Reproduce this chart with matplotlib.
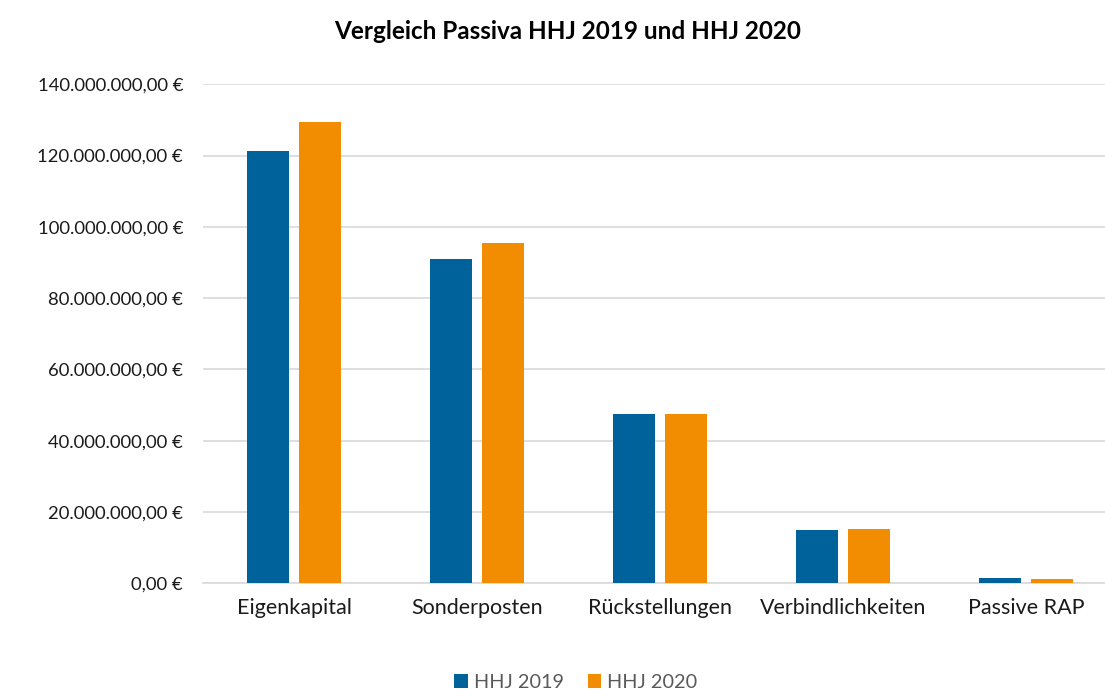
import numpy as np
import matplotlib.pyplot as plt
from matplotlib.ticker import FuncFormatter

categories = ['Eigenkapital', 'Sonderposten', 'Rückstellungen', 'Verbindlichkeiten', 'Passive RAP']
hhj_2019 = [121.4e6, 91.0e6, 47.4e6, 14.9e6, 1.4e6]
hhj_2020 = [129.3e6, 95.6e6, 47.6e6, 15.2e6, 1.2e6]
series_labels = ['HHJ 2019', 'HHJ 2020']

plt.rcParams['font.family'] = ['Lato', 'DejaVu Sans']

fig = plt.figure(figsize=(11.05, 6.91), dpi=100)
ax = fig.add_axes([0.1833, 0.156, 0.828, 0.722])

x = np.arange(len(categories))
width = 0.225
offset = 0.142
ax.bar(x - offset, hhj_2019, width, color='#00629b', label=series_labels[0], zorder=3)
ax.bar(x + offset, hhj_2020, width, color='#f28c00', label=series_labels[1], zorder=3)


def euro(v, pos):
    s = f"{v:,.2f}".replace(',', 'X').replace('.', ',').replace('X', '.')
    return s + ' €'


ax.set_ylim(0, 140e6)
ax.set_xlim(-0.5, 4.5)
ax.set_yticks(np.arange(0, 140e6 + 1, 20e6))
ax.yaxis.set_major_formatter(FuncFormatter(euro))
ax.set_xticks(x)
ax.set_xticklabels(categories)
ax.tick_params(axis='both', length=0, colors='#1a1a1a')
ax.tick_params(axis='y', labelsize=13.3, pad=14)
ax.tick_params(axis='x', labelsize=15.5, pad=11)

ax.grid(axis='y', color='#d9d9d9', linewidth=1.2, zorder=0)
for side in ['top', 'right', 'left']:
    ax.spines[side].set_visible(False)
ax.spines['bottom'].set_color('#d9d9d9')
ax.spines['bottom'].set_linewidth(1.2)

fig.text(0.514, 0.955, 'Vergleich Passiva HHJ 2019 und HHJ 2020', ha='center', va='center',
         fontsize=17.5, fontweight='bold', color='#000000')

leg = fig.legend(loc='center', bbox_to_anchor=(0.521, 0.012), ncol=2, frameon=False,
                 fontsize=14.3, handlelength=0.7, handleheight=0.7, handletextpad=0.3,
                 columnspacing=1.2)
for t in leg.get_texts():
    t.set_color('#595959')

fig.savefig('out.png', dpi=100)
